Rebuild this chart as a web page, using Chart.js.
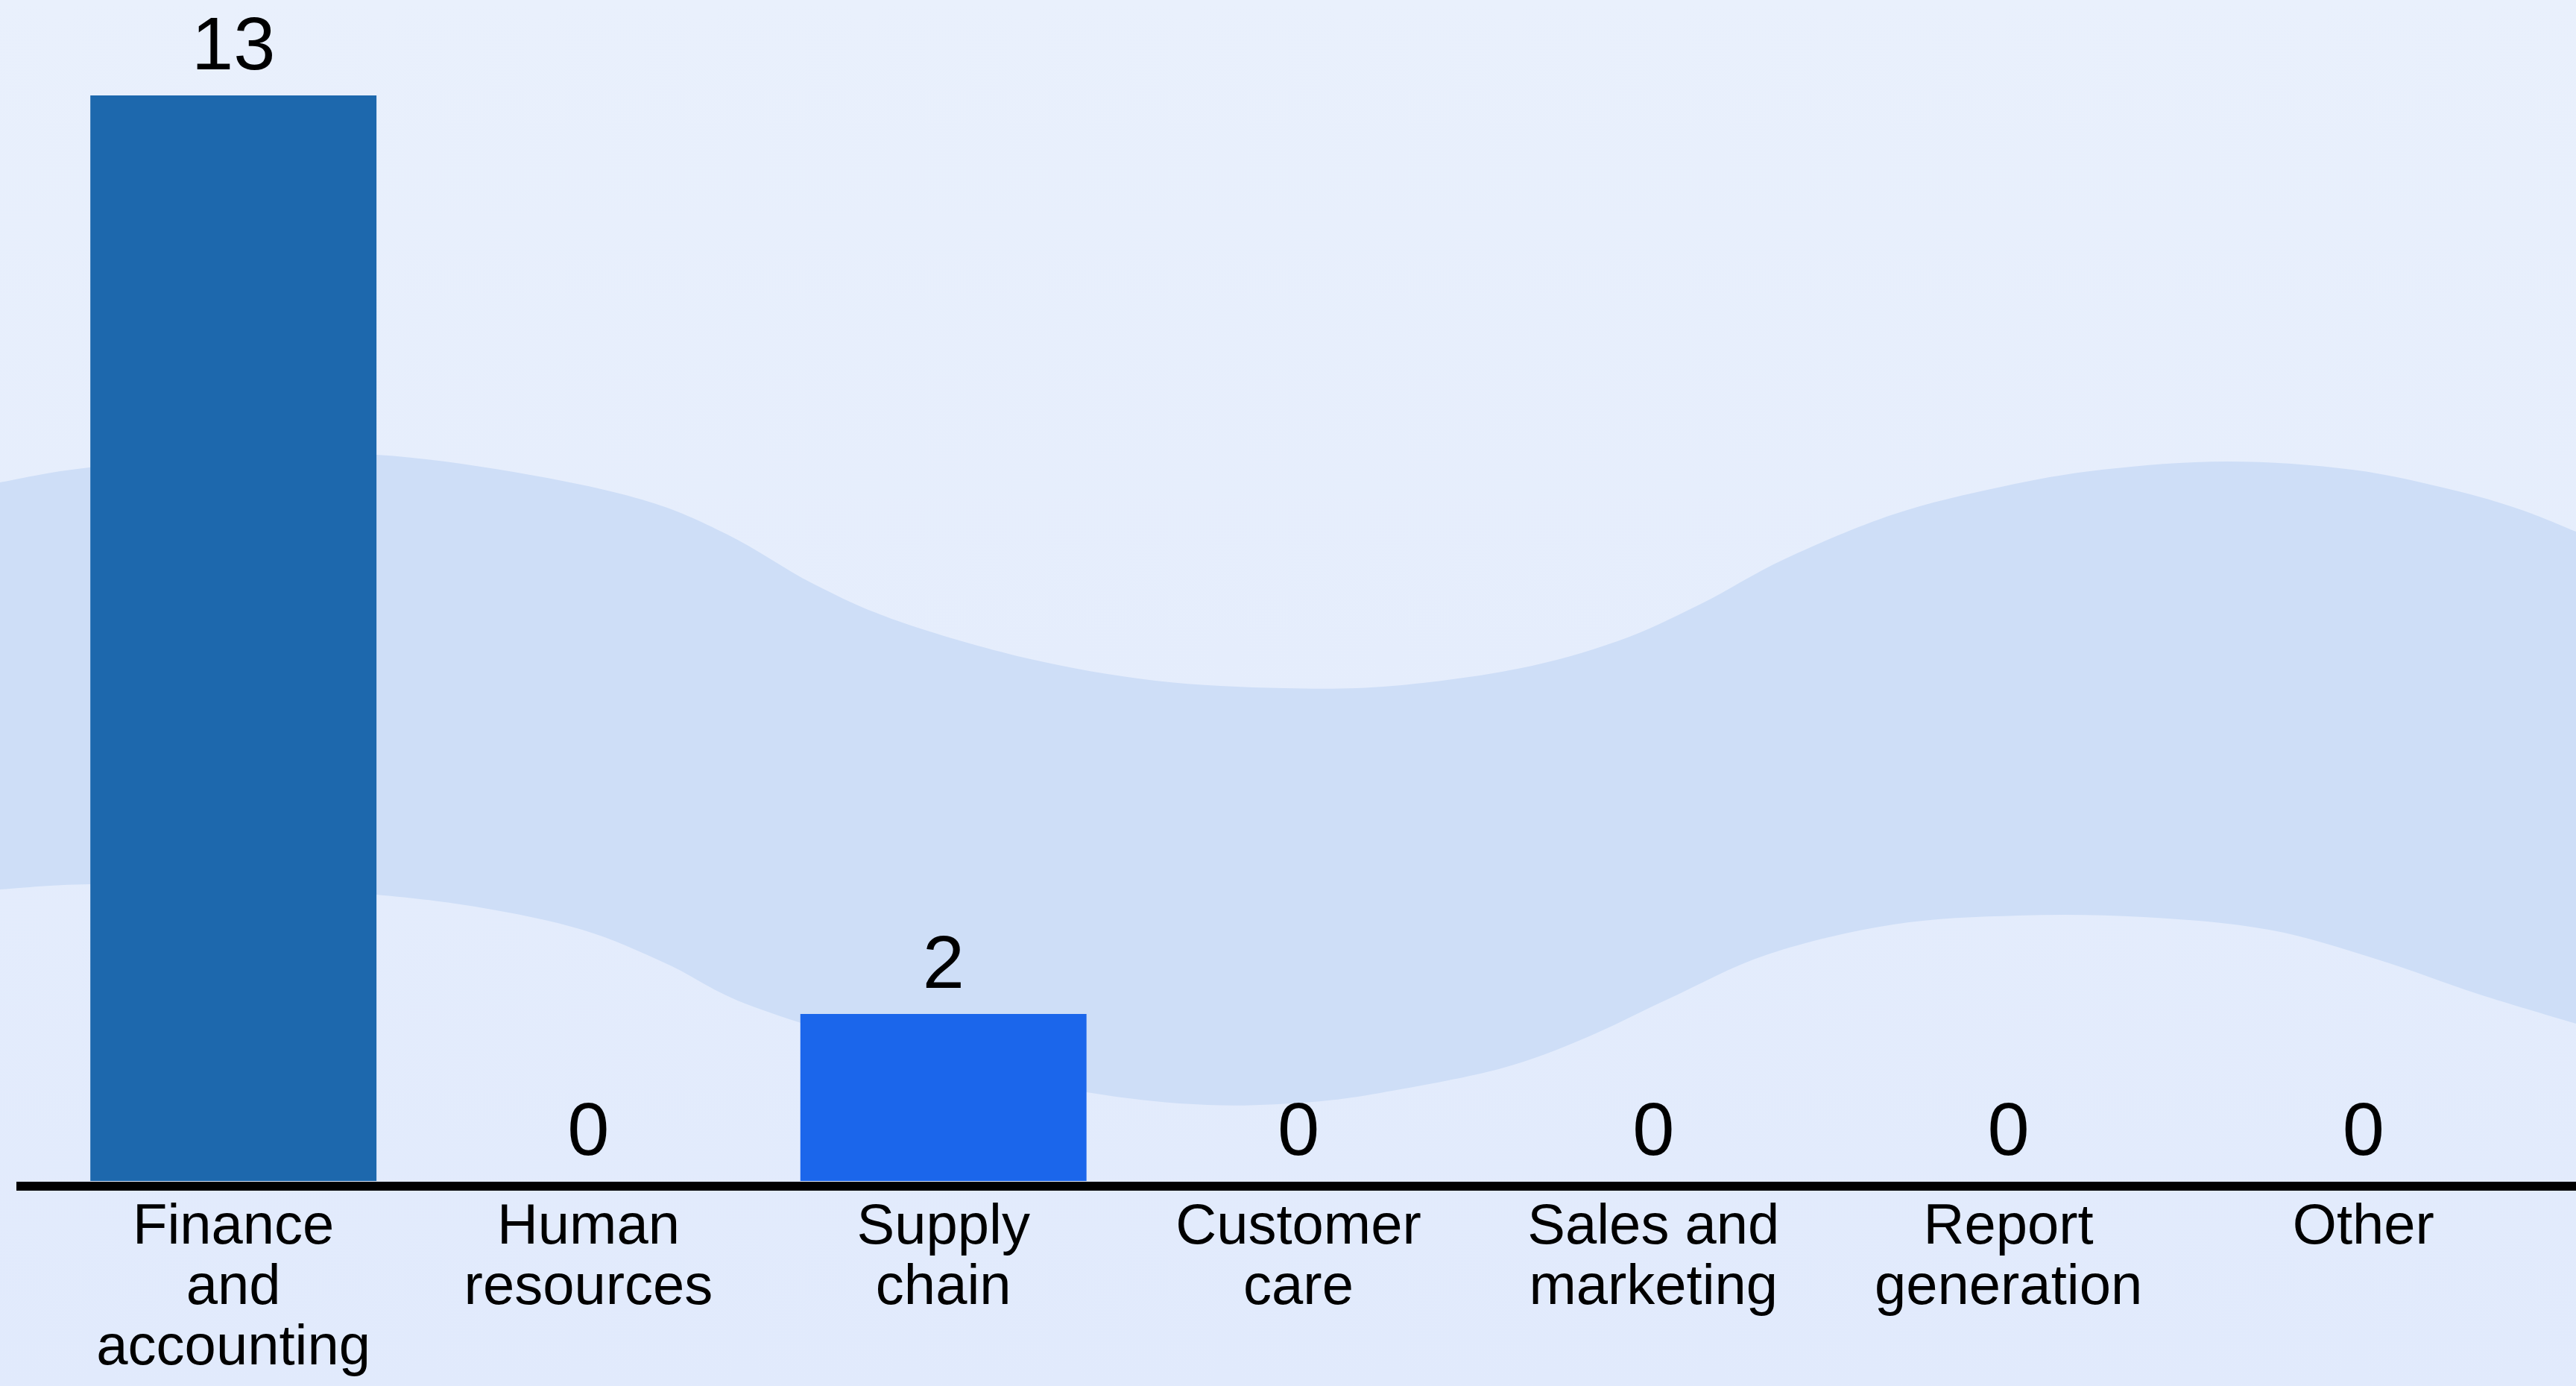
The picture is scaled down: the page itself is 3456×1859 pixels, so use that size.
<!DOCTYPE html>
<html>
<head>
<meta charset="utf-8">
<title>Use cases by function</title>
<script src="https://cdn.jsdelivr.net/npm/chart.js@4.4.0/dist/chart.umd.min.js"></script>
<style>
    html, body { margin: 0; padding: 0; overflow: hidden; background: #e6eefc; }
    #wrap { width: 3456px; height: 1859px; position: relative; }
</style>
</head>
<body>
<div id="wrap"><canvas id="useCaseChart"></canvas></div>
<script>
const categories = [
    ["Finance", "and", "accounting"],
    ["Human", "resources"],
    ["Supply", "chain"],
    ["Customer", "care"],
    ["Sales and", "marketing"],
    ["Report", "generation"],
    ["Other"]
];
const useCaseCounts = [13, 0, 2, 0, 0, 0, 0];
const barColors = ["#1d68ad", "#1b66eb", "#1b66eb", "#1b66eb", "#1b66eb", "#1b66eb", "#1b66eb"];

// soft wave band behind the bars (design-space 3456 x 1859)
const waveTop = [[0, 647], [120, 627], [330, 612], [505, 610], [689, 633], [861, 670], [976, 717],
    [1091, 783], [1205, 833], [1378, 883], [1550, 913], [1722, 923], [1868, 920], [2036, 897],
    [2170, 860], [2282, 810], [2394, 750], [2540, 690], [2685, 653], [2820, 630], [2988, 619],
    [3156, 630], [3290, 657], [3380, 683], [3456, 713]];
const waveBottom = [[0, 1193], [120, 1186], [330, 1188], [505, 1200], [643, 1217], [781, 1247],
    [895, 1293], [1010, 1350], [1240, 1420], [1458, 1465], [1620, 1482], [1760, 1478], [1868, 1463],
    [2014, 1433], [2125, 1393], [2238, 1340], [2372, 1280], [2540, 1240], [2708, 1228], [2876, 1230],
    [3044, 1247], [3190, 1287], [3324, 1333], [3456, 1373]];

function smoothPath(ctx, pts, first) {
    if (first) ctx.moveTo(pts[0][0], pts[0][1]); else ctx.lineTo(pts[0][0], pts[0][1]);
    for (let i = 0; i < pts.length - 1; i++) {
        const p0 = pts[i - 1] || pts[i];
        const p1 = pts[i];
        const p2 = pts[i + 1];
        const p3 = pts[i + 2] || p2;
        ctx.bezierCurveTo(
            p1[0] + (p2[0] - p0[0]) / 6, p1[1] + (p2[1] - p0[1]) / 6,
            p2[0] - (p3[0] - p1[0]) / 6, p2[1] - (p3[1] - p1[1]) / 6,
            p2[0], p2[1]
        );
    }
}

const backdrop = {
    id: "backdrop",
    beforeDraw(chart) {
        const ctx = chart.ctx;
        const sx = chart.width / 3456, sy = chart.height / 1859;
        ctx.save();
        const grad = ctx.createLinearGradient(0, 0, 0, chart.height);
        grad.addColorStop(0, "#e9f0fc");
        grad.addColorStop(1, "#e1eafc");
        ctx.fillStyle = grad;
        ctx.fillRect(0, 0, chart.width, chart.height);
        ctx.scale(sx, sy);
        ctx.beginPath();
        smoothPath(ctx, waveTop, true);
        smoothPath(ctx, waveBottom.slice().reverse(), false);
        ctx.closePath();
        ctx.fillStyle = "#cedef7";
        ctx.fill();
        ctx.restore();
    }
};

// baseline rule and the value above each bar
const valueLabels = {
    id: "valueLabels",
    afterDatasetsDraw(chart) {
        const ctx = chart.ctx;
        const zero = chart.scales.y.getPixelForValue(0);
        ctx.save();
        ctx.fillStyle = "#000";
        ctx.fillRect(22, zero + 1, chart.width - 22, 12);
        ctx.font = "101px 'Liberation Sans', Arial, sans-serif";
        ctx.textAlign = "center";
        ctx.textBaseline = "alphabetic";
        chart.getDatasetMeta(0).data.forEach((bar, i) => {
            ctx.fillText(String(useCaseCounts[i]), bar.x, bar.y - 35);
        });
        ctx.restore();
    }
};

new Chart(document.getElementById("useCaseChart"), {
    type: "bar",
    data: {
        labels: categories,
        datasets: [{
            data: useCaseCounts,
            backgroundColor: barColors,
            borderWidth: 0,
            categoryPercentage: 1,
            barPercentage: 0.806
        }]
    },
    options: {
        responsive: true,
        maintainAspectRatio: false,
        animation: false,
        layout: { padding: { top: 16, left: 75, right: 47, bottom: 0 } },
        plugins: {
            legend: { display: false },
            tooltip: { enabled: false }
        },
        scales: {
            x: {
                grid: { display: false, drawTicks: false },
                border: { display: false },
                ticks: {
                    color: "#000",
                    padding: 22,
                    maxRotation: 0,
                    autoSkip: false,
                    font: { family: "'Liberation Sans', Arial, sans-serif", size: 76, lineHeight: 1.07 }
                },
                afterFit(scale) { scale.height = 275; }
            },
            y: {
                display: false,
                min: 0,
                max: 14
            }
        }
    },
    plugins: [backdrop, valueLabels]
});
</script>
</body>
</html>
